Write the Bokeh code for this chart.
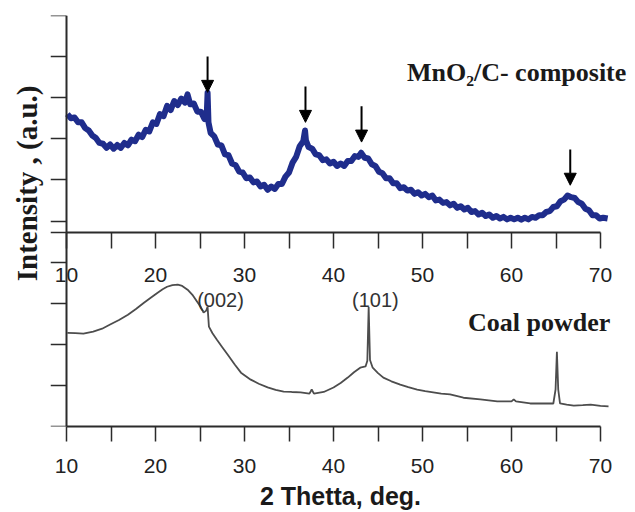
from bokeh.plotting import figure
from bokeh.models import (Range1d, FixedTicker, Title, Arrow, NormalHead, Label,
                          LabelSet, ColumnDataSource, LinearAxis)
from bokeh.core.properties import value
from bokeh.embed import file_html
from bokeh.resources import INLINE

# ---------------- data ----------------
composite_2theta = [10.1, 10.5, 10.9, 11.3, 11.7, 12.1, 12.5, 12.9, 13.3, 13.7, 14.1, 14.5,
                    14.9, 15.3, 15.7, 16.1, 16.5, 16.9, 17.3, 17.7, 18.1, 18.5, 18.9, 19.3,
                    19.7, 20.1, 20.5, 20.9, 21.3, 21.7, 22.1, 22.5, 22.9, 23.3, 23.6, 23.9,
                    24.3, 24.7, 25.1, 25.5, 25.75, 25.85, 25.95, 26.2, 26.6, 27.0, 27.4, 27.8,
                    28.2, 28.6, 29.0, 29.4, 29.8, 30.2, 30.6, 31.0, 31.4, 31.8, 32.2, 32.6,
                    33.0, 33.4, 33.8, 34.2, 34.6, 35.0, 35.4, 35.8, 36.2, 36.6, 36.8, 36.9,
                    37.2, 37.6, 38.0, 38.4, 38.8, 39.2, 39.6, 40.0, 40.4, 40.8, 41.2, 41.6,
                    42.0, 42.4, 42.8, 43.1, 43.5, 43.9, 44.3, 44.7, 45.1, 45.5, 45.9, 46.3,
                    46.7, 47.1, 47.5, 47.9, 48.3, 48.7, 49.1, 49.5, 49.9, 50.3, 50.7, 51.1,
                    51.5, 51.9, 52.3, 52.7, 53.1, 53.5, 53.9, 54.3, 54.7, 55.1, 55.5, 55.9,
                    56.3, 56.7, 57.1, 57.5, 57.9, 58.3, 58.7, 59.1, 59.5, 59.9, 60.3, 60.7,
                    61.1, 61.5, 61.9, 62.3, 62.7, 63.1, 63.5, 63.9, 64.3, 64.7, 65.1, 65.5,
                    65.9, 66.3, 66.7, 67.1, 67.5, 67.9, 68.3, 68.7, 69.1, 69.5, 69.9, 70.3, 70.8]
composite_intensity = [7.60, 7.50, 7.52, 7.40, 7.40, 7.26, 7.20, 7.08, 7.02, 6.90, 6.88, 6.78,
                       6.86, 6.76, 6.85, 6.78, 6.90, 6.84, 6.98, 6.94, 7.10, 7.04, 7.22, 7.18,
                       7.40, 7.36, 7.60, 7.55, 7.80, 7.70, 7.92, 7.82, 7.98, 7.88, 8.08, 7.84,
                       7.86, 7.66, 7.66, 7.48, 7.56, 8.12, 7.40, 7.14, 7.06, 6.86, 6.84, 6.62,
                       6.60, 6.40, 6.36, 6.20, 6.18, 6.04, 6.06, 5.94, 5.96, 5.84, 5.88, 5.76,
                       5.84, 5.78, 5.90, 5.90, 6.08, 6.18, 6.42, 6.56, 6.82, 6.94, 7.20, 6.96,
                       6.80, 6.76, 6.62, 6.60, 6.48, 6.50, 6.40, 6.44, 6.34, 6.40, 6.34, 6.46,
                       6.46, 6.58, 6.56, 6.66, 6.54, 6.52, 6.38, 6.34, 6.20, 6.16, 6.04, 6.04,
                       5.92, 5.92, 5.80, 5.82, 5.74, 5.76, 5.66, 5.70, 5.62, 5.66, 5.58, 5.62,
                       5.50, 5.52, 5.44, 5.46, 5.38, 5.42, 5.32, 5.36, 5.28, 5.32, 5.22, 5.24,
                       5.16, 5.20, 5.12, 5.16, 5.08, 5.12, 5.06, 5.10, 5.04, 5.08, 5.04, 5.08,
                       5.03, 5.08, 5.04, 5.10, 5.08, 5.14, 5.14, 5.22, 5.24, 5.34, 5.36, 5.48,
                       5.52, 5.62, 5.58, 5.56, 5.46, 5.42, 5.30, 5.26, 5.14, 5.14, 5.06, 5.08, 5.06]

coal_2theta = [10.1, 11.0, 11.9, 13.0, 14.0, 14.9, 15.9, 16.9, 17.8, 18.7, 19.5, 20.2, 20.8,
               21.3, 21.9, 22.5, 23.0, 23.6, 24.2, 24.7, 25.1, 25.4, 25.7, 25.85, 26.0, 26.4,
               26.9, 27.5, 28.1, 28.9, 29.6, 30.7, 31.6, 32.6, 33.5, 34.4, 35.3, 36.3, 37.3,
               37.55, 37.8, 38.9, 40.0, 40.8, 41.6, 42.3, 43.0, 43.6, 43.8, 43.95, 44.1, 44.4,
               45.0, 45.6, 46.5, 47.5, 48.4, 49.4, 50.3, 51.2, 52.1, 53.1, 54.6, 56.5, 58.4,
               60.0, 60.25, 60.5, 62.1, 63.5, 64.7, 64.95, 65.1, 65.25, 65.45, 66.2, 67.0,
               68.0, 68.9, 70.0, 70.9]
coal_intensity = [2.28, 2.27, 2.26, 2.31, 2.38, 2.48, 2.59, 2.72, 2.86, 3.01, 3.14, 3.25, 3.34,
                  3.40, 3.44, 3.45, 3.42, 3.33, 3.19, 3.03, 2.90, 2.77, 2.82, 2.91, 2.43, 2.27,
                  2.11, 1.93, 1.75, 1.51, 1.31, 1.14, 1.04, 0.95, 0.89, 0.85, 0.84, 0.83, 0.80,
                  0.90, 0.80, 0.84, 0.95, 1.06, 1.19, 1.32, 1.43, 1.46, 1.60, 2.91, 1.62, 1.43,
                  1.30, 1.19, 1.10, 1.02, 0.96, 0.90, 0.86, 0.83, 0.80, 0.78, 0.70, 0.66, 0.61,
                  0.61, 0.66, 0.61, 0.56, 0.56, 0.56, 0.90, 1.82, 0.90, 0.56, 0.53, 0.51,
                  0.52, 0.53, 0.50, 0.49]

arrow_2theta = [25.85, 36.85, 43.15, 66.6]
arrow_tip = [8.13, 7.40, 6.92, 5.87]

x_ticks = [10, 20, 30, 40, 50, 60, 70]
x_minor_ticks = [15, 25, 35, 45, 55, 65]
y_ticks = [0, 1, 2, 3, 4, 4.71, 5, 6, 7, 8, 9, 10]

peak_labels = ["(002)", "(101)"]
peak_label_2theta = [27.3, 44.7]
peak_label_y = [3.08, 3.08]

# ---------------- figure ----------------
AX = "#2b2b2b"
TXT = "#222222"
p = figure(width=634, height=512, output_backend="svg", toolbar_location=None,
           x_range=Range1d(8.2, 73.37), y_range=Range1d(0, 10),
           min_border_left=50, min_border_right=4, min_border_top=15, min_border_bottom=4)
p.grid.visible = False
p.outline_line_color = None
p.background_fill_color = "white"
p.border_fill_color = "white"


def style_x_axis(a):
    a.ticker = FixedTicker(ticks=x_ticks, minor_ticks=x_minor_ticks)
    a.bounds = (10, 70)
    a.axis_line_width = 2
    a.axis_line_color = AX
    a.major_tick_in = 0
    a.major_tick_out = 16
    a.minor_tick_in = 0
    a.minor_tick_out = 16
    a.major_tick_line_color = AX
    a.minor_tick_line_color = AX
    a.major_tick_line_width = 1.5
    a.minor_tick_line_width = 1.5
    a.major_label_text_font = "Liberation Sans"
    a.major_label_text_font_size = "21px"
    a.major_label_text_color = TXT


ax = p.xaxis[0]
style_x_axis(ax)
ax.major_tick_out = 15
ax.minor_tick_out = 15
ax.major_label_standoff = 17
ax.axis_label = "2 Thetta, deg."
ax.axis_label_text_font = "Liberation Sans"
ax.axis_label_text_font_style = "bold"
ax.axis_label_text_font_size = "25px"
ax.axis_label_text_color = "#1a1a1a"
ax.axis_label_standoff = 6

# x axis of the upper panel, drawn across the middle of the frame
mid = 4.71
mid_axis = LinearAxis(fixed_location=mid)
style_x_axis(mid_axis)
mid_axis.major_label_standoff = 19
p.add_layout(mid_axis, "below")

# left axis at 2θ = 10, ticks only (drawn as minor ticks so no labels exist)
ay = p.yaxis[0]
ay.fixed_location = 10
ay.ticker = FixedTicker(ticks=[], minor_ticks=y_ticks)
ay.bounds = (0, 10)
ay.axis_line_width = 2
ay.axis_line_color = AX
ay.minor_tick_in = 0
ay.minor_tick_out = 16
ay.minor_tick_line_color = AX
ay.minor_tick_line_width = 1.5
ay.major_tick_line_color = None

p.add_layout(Title(text="Intensity , (a.u.)", align="right", offset=70,
                   text_font="Liberation Serif", text_font_style="bold",
                   text_font_size="29px", text_color="#1a1a1a", standoff=16), "left")

# ---------------- curves ----------------
p.line(composite_2theta, composite_intensity, line_color="#1f2d8c", line_width=6,
       line_join="round")
p.line(coal_2theta, coal_intensity, line_color="#4d4d4d", line_width=1.8)

# ---------------- arrows ----------------
arr_src = ColumnDataSource(dict(x=arrow_2theta, y1=arrow_tip,
                                y0=[t + 0.87 for t in arrow_tip]))
p.add_layout(Arrow(x_start="x", y_start="y0", x_end="x", y_end="y1", source=arr_src,
                   line_width=2, line_color="black",
                   end=NormalHead(size=12, fill_color="black", line_color="black")))

# ---------------- texts ----------------
p.add_layout(Label(x=72.9, y=8.62, text="MnO\u2082/C- composite", text_align="right",
                   text_baseline="alphabetic", text_font="Liberation Serif",
                   text_font_style="bold", text_font_size="26px", text_color="#1a1a1a"))
p.add_layout(Label(x=71.1, y=2.52, text="Coal powder", text_align="right",
                   text_baseline="alphabetic", text_font="Liberation Serif",
                   text_font_style="bold", text_font_size="26px", text_color="#1a1a1a"))
pk_src = ColumnDataSource(dict(x=peak_label_2theta, y=peak_label_y, text=peak_labels))
p.add_layout(LabelSet(x="x", y="y", text="text", source=pk_src, text_align="center",
                      text_baseline="middle", text_font=value("Liberation Sans"),
                      text_font_size=value("20px"), text_color="#333333"))

open("out.html", "w").write(file_html(p, INLINE))
